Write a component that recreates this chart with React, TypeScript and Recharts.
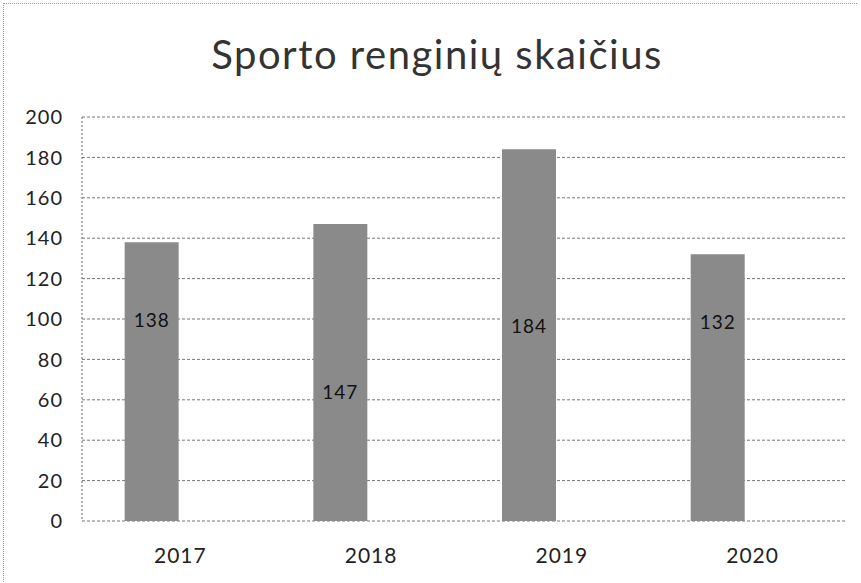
import React from 'react';
import { BarChart, Bar, XAxis, YAxis, CartesianGrid, LabelList } from 'recharts';

const years = [2017, 2018, 2019, 2020];
const values = [138, 147, 184, 132];
// where each data label sits, in value units (as placed in the source chart)
const labelAt = [100, 64, 97, 99];
const yTicks = [0, 20, 40, 60, 80, 100, 120, 140, 160, 180, 200];
const title = 'Sporto renginių skaičius';

const data = years.map((y, i) => ({ year: y, yearLabel: String(y), value: values[i], labelAt: labelAt[i] }));

const FONT = 'Lato, "Open Sans", sans-serif';

const renderLabel = (props: any) => {
  const { x, y, width, height, value, index } = props;
  const perUnit = height / value;
  const ly = y + height - labelAt[index] * perUnit;
  return (
    <text x={x + width / 2} y={ly} textAnchor="middle" dominantBaseline="central" fontSize={19} letterSpacing={1} fill="#111" fontFamily={FONT}>
      {value}
    </text>
  );
};

export default function App() {
  return (
    <div style={{ position: 'absolute', left: 0, top: 0, width: 861, height: 583, background: '#fff' }}>
      <div style={{ position: 'absolute', left: 3, top: 3, width: 853, height: 600, borderTop: '1px dotted #999', borderLeft: '1px dotted #999' }} />
      <div style={{ position: 'absolute', left: 0, top: 30, width: 874, textAlign: 'center', fontFamily: FONT, fontSize: 40, letterSpacing: 1.5, color: '#333' }}>
        {title}
      </div>
      <BarChart width={861} height={583} data={data} margin={{ top: 117, right: 16, bottom: 0, left: 0 }}>
        <CartesianGrid vertical={false} stroke="#777" strokeDasharray="3 2" />
        <XAxis
          xAxisId="cat"
          type="category"
          dataKey="yearLabel"
          height={62}
          tickLine={false}
          axisLine={false}
          tick={{ fontSize: 21, fill: '#222', fontFamily: FONT, dx: 3, letterSpacing: 1 }}
          tickMargin={21}
        />
        <XAxis
          xAxisId="num"
          type="number"
          dataKey="year"
          domain={[2016.629, 2020.673]}
          hide
        />
        <YAxis
          width={82}
          domain={[0, 200]}
          ticks={yTicks}
          tickLine={false}
          axisLine={{ stroke: '#666', strokeDasharray: '2 2' }}
          tick={{ fontSize: 20, fill: '#222', fontFamily: FONT, letterSpacing: 1 }}
          tickMargin={13}
        />
        <Bar xAxisId="num" dataKey="value" fill="#8a8a8a" barSize={54} isAnimationActive={false}>
          <LabelList dataKey="value" content={renderLabel} />
        </Bar>
      </BarChart>
    </div>
  );
}
